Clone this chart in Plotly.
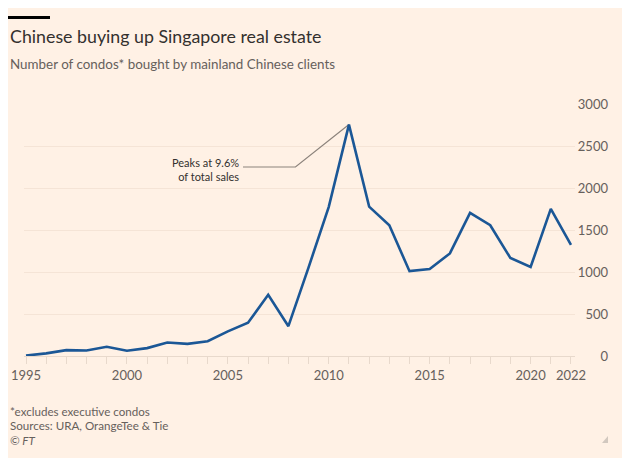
import plotly.graph_objects as go

years = list(range(1995, 2023))
condos = [5, 31, 70, 66, 109, 62, 94, 160, 145, 176, 293, 395, 728, 355, 1055, 1776, 2755, 1778, 1556, 1010, 1035, 1221, 1703, 1557, 1166, 1059, 1751, 1324]

x_tick_vals = [1995, 2000, 2005, 2010, 2015, 2020, 2022]
y_tick_vals = [0, 500, 1000, 1500, 2000, 2500, 3000]

peak_note = "Peaks at 9.6%<br>of total sales"
note_x = [2005.75, 2008.35, 2011]
note_y = [2250, 2250, 2755]

BG = "#fff1e5"
FONT = "Lato, 'Noto Sans', sans-serif"

W, H = 630, 458
L, R, T, B = 16, 30, 96, 110
PW = W - L - R
PH = H - T - B


def px(x):
    return (x - L) / PW


def py(y):
    return (H - B - y) / PH


fig = go.Figure()
fig.add_trace(go.Scatter(x=note_x, y=note_y, mode="lines",
                         line=dict(color="#8c837c", width=1.2),
                         hoverinfo="skip", showlegend=False))
fig.add_trace(go.Scatter(x=years, y=condos, mode="lines",
                         line=dict(color="#1b5796", width=2.6),
                         showlegend=False))

fig.add_annotation(x=2005.65, y=2225, text=peak_note, showarrow=False,
                   xanchor="right", yanchor="middle", align="right",
                   font=dict(size=11, color="#33302e", family=FONT))

fig.update_layout(
    template="none",
    width=W, height=H,
    paper_bgcolor=BG, plot_bgcolor=BG,
    margin=dict(l=L, r=R, t=T, b=B, pad=0, autoexpand=False),
    font=dict(family=FONT, color="#66605c"),
    xaxis=dict(domain=[0, 551/PW], range=[1994.901, 2022.199], automargin=False,
               tickvals=x_tick_vals, ticktext=[str(v) for v in x_tick_vals],
               ticks="outside", ticklen=7, tickcolor="#e8d9cc", tickwidth=1,
               minor=dict(dtick=1, tick0=1995, ticks="outside", ticklen=7,
                          tickcolor="#e8d9cc", tickwidth=1, showgrid=False),
               showline=True, linecolor="#e8d9cc", linewidth=1,
               showgrid=False, zeroline=False,
               tickfont=dict(size=13, color="#66605c")),
    yaxis=dict(range=[0, 3000], tickvals=y_tick_vals, automargin=False,
               anchor="free", position=1, side="left",
               showgrid=True, gridcolor="#f5e4d6", gridwidth=1,
               zeroline=False, showline=False, ticks="",
               tickfont=dict(size=13, color="#66605c")),
)

# top black bar
fig.add_shape(type="rect", xref="paper", yref="paper", x0=px(0), x1=px(42),
              y0=py(11), y1=py(8), fillcolor="#000000", line_width=0)

# small corner mark
fig.add_shape(type="path", xref="paper", yref="paper",
              path=f"M {px(594)} {py(435)} L {px(600)} {py(428)} L {px(600)} {py(435)} Z",
              fillcolor="#d2c8bf", line_width=0)

fig.add_annotation(xref="paper", yref="paper", x=px(0), y=py(28),
                   text="Chinese buying up Singapore real estate", showarrow=False,
                   xanchor="left", yanchor="middle",
                   font=dict(size=17.8, color="#33302e", family=FONT))
fig.add_annotation(xref="paper", yref="paper", x=px(0), y=py(56),
                   text="Number of condos* bought by mainland Chinese clients", showarrow=False,
                   xanchor="left", yanchor="middle",
                   font=dict(size=13.4, color="#66605c", family=FONT))
for txt, yy in [("*excludes executive condos", 403),
                ("Sources: URA, OrangeTee & Tie", 417),
                ("<i>© FT</i>", 432)]:
    fig.add_annotation(xref="paper", yref="paper", x=px(0), y=py(yy),
                       text=txt, showarrow=False, xanchor="left", yanchor="middle",
                       font=dict(size=11.6, color="#66605c", family=FONT))

fig.write_html("out.html")
